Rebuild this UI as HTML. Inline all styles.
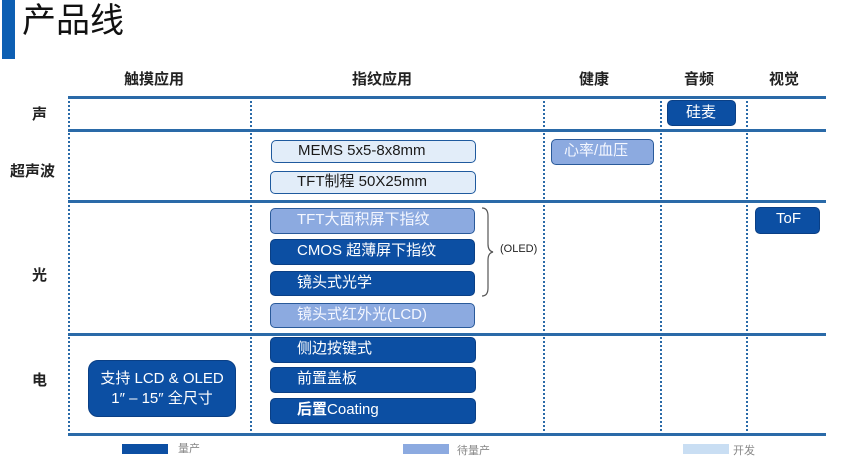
<!DOCTYPE html>
<html><head><meta charset="utf-8"><style>
body{margin:0;width:850px;height:465px;background:#fff;position:relative;overflow:hidden;font-family:"Liberation Sans","Noto Sans CJK SC",sans-serif;}
div{position:absolute;box-sizing:border-box;}
.h{height:3px;background:#2a6aa8;left:68px;width:758px;}
.v{width:0;border-left:2px dotted #2a6aa8;top:97px;height:338px;}
.hd{font-weight:bold;font-size:15px;color:#222;top:68px;}
.rl{font-weight:bold;font-size:15px;color:#222;}
.b{border-radius:5px;font-size:15px;padding-left:26px;line-height:22px;}
.d{background:#0c4fa3;color:#fff;border:1.5px solid #0a3f85;}
.m{background:#8caae0;color:#f4f7ff;border:1.5px solid #2a5a9a;}
.l{background:#e2edf9;color:#1a1a1a;border:1.5px solid #1f5a9e;}
</style></head><body>
<div style="left:2px;top:0;width:13px;height:59px;background:#0d5fb3"></div>
<div style="left:22px;top:0;font-size:34px;color:#111;line-height:42px">产品线</div>
<div class="hd" style="left:124px">触摸应用</div>
<div class="hd" style="left:352px">指纹应用</div>
<div class="hd" style="left:579px">健康</div>
<div class="hd" style="left:684px">音频</div>
<div class="hd" style="left:769px">视觉</div>
<div class="rl" style="left:32px;top:103px">声</div>
<div class="rl" style="left:10px;top:160px">超声波</div>
<div class="rl" style="left:32px;top:264px">光</div>
<div class="rl" style="left:32px;top:369px">电</div>
<div class="h" style="top:96px"></div>
<div class="h" style="top:129px"></div>
<div class="h" style="top:200px"></div>
<div class="h" style="top:333px"></div>
<div class="h" style="top:433px"></div>
<div class="v" style="left:68px"></div>
<div class="v" style="left:250px"></div>
<div class="v" style="left:543px"></div>
<div class="v" style="left:660px"></div>
<div class="v" style="left:746px"></div>
<div class="b d" style="left:667px;top:100px;width:69px;height:26px;padding-left:18px;line-height:23px">硅麦</div>
<div class="b l" style="left:271px;top:140px;width:205px;height:23px;line-height:20px">MEMS 5x5-8x8mm</div>
<div class="b l" style="left:270px;top:171px;width:206px;height:23px;line-height:20px">TFT制程 50X25mm</div>
<div class="b m" style="left:551px;top:139px;width:103px;height:26px;padding-left:12px">心率/血压</div>
<div class="b m" style="left:270px;top:208px;width:205px;height:26px">TFT大面积屏下指纹</div>
<div class="b d" style="left:270px;top:239px;width:205px;height:26px">CMOS 超薄屏下指纹</div>
<div class="b d" style="left:270px;top:271px;width:205px;height:25px">镜头式光学</div>
<div class="b m" style="left:270px;top:303px;width:205px;height:25px">镜头式红外光(LCD)</div>
<div class="b d" style="left:755px;top:207px;width:65px;height:27px;padding-left:20px">ToF</div>
<div class="b d" style="left:270px;top:337px;width:206px;height:26px">侧边按键式</div>
<div class="b d" style="left:270px;top:367px;width:206px;height:26px">前置盖板</div>
<div class="b d" style="left:270px;top:398px;width:206px;height:26px"><b>后置</b>Coating</div>
<div class="d" style="left:88px;top:360px;width:148px;height:57px;border-radius:10px;text-align:center;font-size:15px;line-height:20px;padding-top:8px">支持 LCD &amp; OLED<br>1″ – 15″ 全尺寸</div>
<svg style="position:absolute;left:480px;top:206px" width="16" height="92"><path d="M2 2 Q8 2 8 10 L8 38 Q8 45 13 46 Q8 47 8 54 L8 82 Q8 90 2 90" fill="none" stroke="#555" stroke-width="1.2"/></svg>
<div style="left:500px;top:243px;font-size:11px;color:#222">(OLED)</div>
<div style="left:122px;top:444px;width:46px;height:10px;background:#0c4fa3"></div>
<div style="left:178px;top:440px;font-size:11px;color:#888">量产</div>
<div style="left:403px;top:444px;width:46px;height:10px;background:#8caae0"></div>
<div style="left:457px;top:442px;font-size:11px;color:#888">待量产</div>
<div style="left:683px;top:444px;width:46px;height:10px;background:#c9def3"></div>
<div style="left:733px;top:442px;font-size:11px;color:#888">开发</div>
</body></html>
